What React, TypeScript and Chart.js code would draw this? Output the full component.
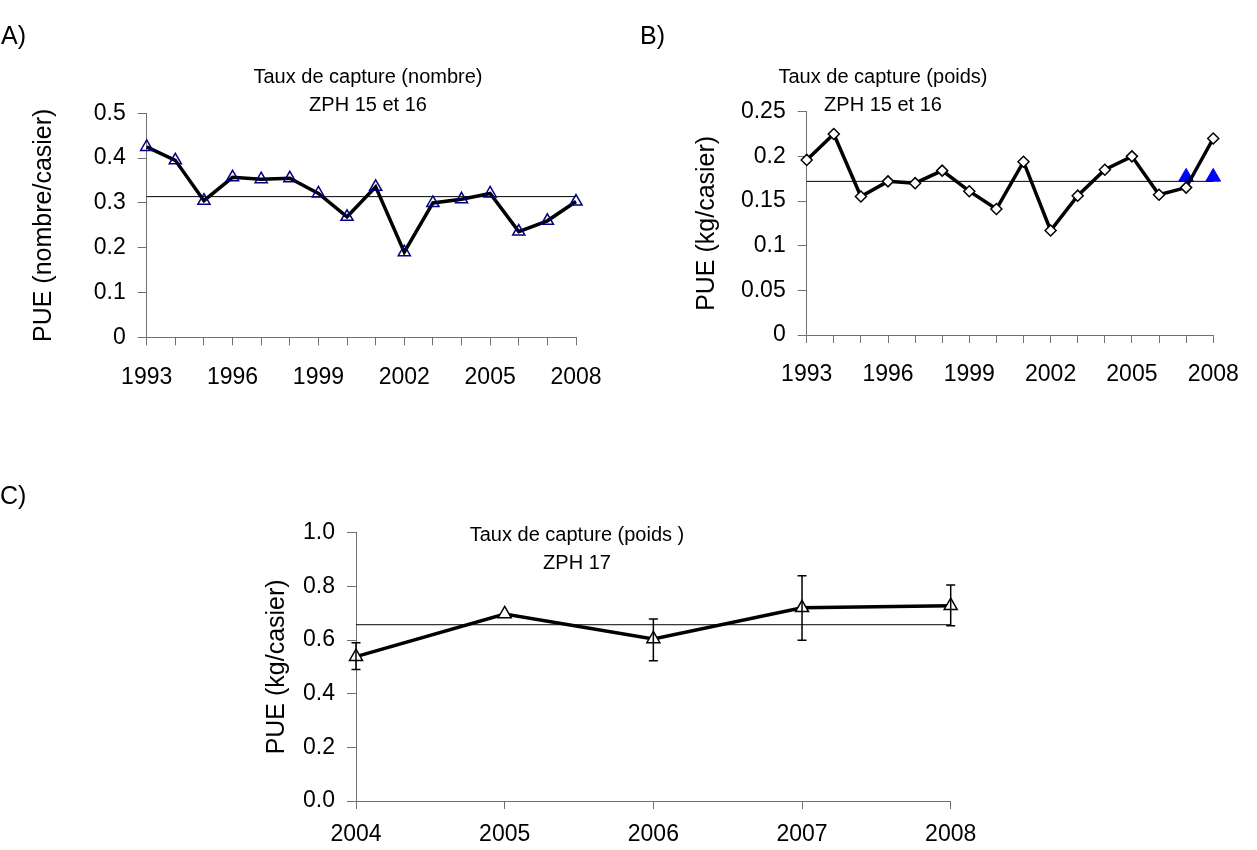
import React, { useEffect, useRef } from "react";
import { Chart, registerables } from "chart.js";

Chart.register(...registerables);

const FONT = "'Liberation Sans', Arial, Helvetica, sans-serif";
const AXIS = "#707070";

// ---------- data ----------
const yearsAB = [1993, 1994, 1995, 1996, 1997, 1998, 1999, 2000, 2001, 2002, 2003, 2004, 2005, 2006, 2007, 2008];
const xLabelYearsAB = [1993, 1996, 1999, 2002, 2005, 2008];

const pueNombre = [0.425, 0.395, 0.305, 0.357, 0.353, 0.355, 0.321, 0.269, 0.336, 0.19, 0.3, 0.308, 0.321, 0.236, 0.26, 0.303];
const meanNombre = 0.314;

const puePoids = [0.196, 0.225, 0.155, 0.172, 0.17, 0.184, 0.161, 0.141, 0.194, 0.117, 0.156, 0.185, 0.2, 0.157, 0.165, 0.22];
const meanPoids = 0.172;
const blueYears = [2007, 2008];
const blueValues = [0.177, 0.177];

const yearsC = [2004, 2005, 2006, 2007, 2008];
const pueZph17 = [0.538, 0.697, 0.604, 0.72, 0.728];
const errLowC: (number | null)[] = [0.49, null, 0.523, 0.599, 0.653];
const errHighC: (number | null)[] = [0.59, null, 0.678, 0.84, 0.805];
const meanZph17 = 0.657;

// ---------- plugins ----------
function titlePlugin(lines: string[], x: number, ys: number[], size: number) {
  return {
    id: "panelTitle",
    afterDraw(chart: any) {
      const ctx = chart.ctx;
      ctx.save();
      ctx.font = `${size}px ${FONT}`;
      ctx.fillStyle = "#000";
      ctx.textAlign = "center";
      ctx.textBaseline = "middle";
      lines.forEach((t, i) => ctx.fillText(t, x, ys[i]));
      ctx.restore();
    },
  };
}

function errorBarPlugin(xs: number[], lows: (number | null)[], highs: (number | null)[]) {
  return {
    id: "errorBars",
    afterDatasetsDraw(chart: any) {
      const ctx = chart.ctx;
      const sx = chart.scales.x;
      const sy = chart.scales.y;
      ctx.save();
      ctx.strokeStyle = "#000";
      ctx.lineWidth = 1.5;
      xs.forEach((xv, i) => {
        const lo = lows[i];
        const hi = highs[i];
        if (lo == null || hi == null) return;
        const px = sx.getPixelForValue(xv);
        const y1 = sy.getPixelForValue(lo);
        const y2 = sy.getPixelForValue(hi);
        ctx.beginPath();
        ctx.moveTo(px, y1);
        ctx.lineTo(px, y2);
        ctx.moveTo(px - 4.5, y1);
        ctx.lineTo(px + 4.5, y1);
        ctx.moveTo(px - 4.5, y2);
        ctx.lineTo(px + 4.5, y2);
        ctx.stroke();
      });
      ctx.restore();
    },
  };
}

// ---------- config builder ----------
type PanelSpec = {
  w: number;
  h: number;
  area: { left: number; right: number; top: number; bottom: number };
  xH: number;
  xMin: number;
  xMax: number;
  xLabel: (v: number) => string;
  xPad: number;
  yMin: number;
  yMax: number;
  yStep: number;
  yFmt: (v: number) => string;
  yTitle: string;
  yTitleX: number;
  datasets: any[];
  plugins: any[];
};

const TICK_SIZE = 23;
const YTITLE_SIZE = 25;
const TITLE_SIZE = 20;

function buildConfig(p: PanelSpec): any {
  const lh = YTITLE_SIZE * 1.2;
  const tlh = TICK_SIZE * 1.2;
  return {
    type: "line",
    data: { datasets: p.datasets },
    plugins: p.plugins,
    options: {
      animation: false,
      responsive: false,
      maintainAspectRatio: false,
      events: [],
      layout: {
        padding: {
          left: 0,
          right: p.w - p.area.right,
          top: p.area.top,
          bottom: p.h - p.area.bottom - p.xH,
        },
      },
      plugins: {
        legend: { display: false },
        tooltip: { enabled: false },
        title: { display: false },
      },
      scales: {
        x: {
          type: "linear",
          min: p.xMin,
          max: p.xMax,
          afterFit: (s: any) => {
            s.height = p.xH;
          },
          ticks: {
            stepSize: 1,
            autoSkip: false,
            maxRotation: 0,
            minRotation: 0,
            padding: p.xPad - tlh / 2,
            color: "#000",
            font: { family: FONT, size: TICK_SIZE },
            callback: (v: any) => p.xLabel(Number(v)),
          },
          grid: {
            display: true,
            drawOnChartArea: false,
            drawTicks: true,
            tickLength: 8,
            color: AXIS,
            lineWidth: 1,
          },
          border: { display: true, color: AXIS, width: 1 },
        },
        y: {
          type: "linear",
          min: p.yMin,
          max: p.yMax,
          afterFit: (s: any) => {
            s.width = p.area.left;
          },
          ticks: {
            stepSize: p.yStep,
            autoSkip: false,
            padding: 12,
            color: "#000",
            font: { family: FONT, size: TICK_SIZE },
            callback: (v: any) => p.yFmt(Number(v)),
          },
          grid: {
            display: true,
            drawOnChartArea: false,
            drawTicks: true,
            tickLength: 9,
            color: AXIS,
            lineWidth: 1,
          },
          border: { display: true, color: AXIS, width: 1 },
          title: {
            display: true,
            text: p.yTitle,
            color: "#000",
            font: { family: FONT, size: YTITLE_SIZE },
            padding: { top: p.yTitleX - lh / 2, bottom: 0 },
          },
        },
      },
    },
  };
}

function pts(xs: number[], ys: number[]) {
  return xs.map((x, i) => ({ x, y: ys[i] }));
}

function meanLine(x0: number, x1: number, v: number) {
  return {
    data: [
      { x: x0, y: v },
      { x: x1, y: v },
    ],
    borderColor: "#000",
    borderWidth: 1,
    pointRadius: 0,
    tension: 0,
    clip: false,
    order: 1,
  };
}

const labelAB = (v: number) => (xLabelYearsAB.includes(v) ? String(v) : "");

function specA(): PanelSpec {
  return {
    w: 628,
    h: 430,
    area: { left: 146.7, right: 576, top: 113.3, bottom: 337.3 },
    xH: 62,
    xMin: 1993,
    xMax: 2008,
    xLabel: labelAB,
    xPad: 32,
    yMin: 0,
    yMax: 0.5,
    yStep: 0.1,
    yFmt: (v) => (Math.abs(v) < 1e-9 ? "0" : v.toFixed(1)),
    yTitle: "PUE (nombre/casier)",
    yTitleX: 44,
    datasets: [
      {
        data: pts(yearsAB, pueNombre),
        borderColor: "#000",
        borderWidth: 3.5,
        tension: 0,
        clip: false,
        pointStyle: "triangle",
        pointRadius: 7,
        pointBorderColor: "#000080",
        pointBackgroundColor: "rgba(0,0,0,0)",
        pointBorderWidth: 1.5,
        order: 0,
      },
      meanLine(1993, 2008, meanNombre),
    ],
    plugins: [titlePlugin(["Taux de capture (nombre)", "ZPH 15 et 16"], 368, [77, 105], TITLE_SIZE)],
  };
}

function specB(): PanelSpec {
  const L = 628;
  return {
    w: 629,
    h: 430,
    area: { left: 806.7 - L, right: 1225.7 - L, top: 111.7, bottom: 335 },
    xH: 62,
    xMin: 1993,
    xMax: 2008,
    xLabel: labelAB,
    xPad: 32,
    yMin: 0,
    yMax: 0.25,
    yStep: 0.05,
    yFmt: (v) => String(Number(v.toFixed(2))),
    yTitle: "PUE (kg/casier)",
    yTitleX: 707 - L,
    datasets: [
      {
        data: pts(yearsAB, puePoids),
        borderColor: "#000",
        borderWidth: 3.5,
        tension: 0,
        clip: false,
        pointStyle: "rectRot",
        pointRadius: 5.5,
        pointBorderColor: "#000",
        pointBackgroundColor: "#fff",
        pointBorderWidth: 1.5,
        order: 0,
      },
      meanLine(1993, 2008, meanPoids),
      {
        data: pts(blueYears, blueValues),
        showLine: false,
        clip: false,
        pointStyle: "triangle",
        pointRadius: 8.5,
        pointBorderColor: "#0000ff",
        pointBackgroundColor: "#0000ff",
        pointBorderWidth: 1,
        order: 2,
      },
    ],
    plugins: [titlePlugin(["Taux de capture (poids)", "ZPH 15 et 16"], 883 - L, [77, 105], TITLE_SIZE)],
  };
}

function specC(): PanelSpec {
  const T = 430;
  return {
    w: 1257,
    h: 420,
    area: { left: 356, right: 950.7, top: 532.7 - T, bottom: 801 - T },
    xH: 45,
    xMin: 2004,
    xMax: 2008,
    xLabel: (v) => String(v),
    xPad: 26,
    yMin: 0,
    yMax: 1.0,
    yStep: 0.2,
    yFmt: (v) => v.toFixed(1),
    yTitle: "PUE (kg/casier)",
    yTitleX: 277,
    datasets: [
      {
        data: pts(yearsC, pueZph17),
        borderColor: "#000",
        borderWidth: 3.5,
        tension: 0,
        clip: false,
        pointStyle: "triangle",
        pointRadius: 7.5,
        pointBorderColor: "#000",
        pointBackgroundColor: "#fff",
        pointBorderWidth: 1.5,
        order: 0,
      },
      meanLine(2004, 2008, meanZph17),
    ],
    plugins: [
      titlePlugin(["Taux de capture (poids )", "ZPH 17"], 577, [535 - T, 563 - T], TITLE_SIZE),
      errorBarPlugin(yearsC, errLowC, errHighC),
    ],
  };
}

function Panel(props: { left: number; top: number; spec: () => PanelSpec }) {
  const ref = useRef<HTMLCanvasElement | null>(null);
  const s = props.spec();
  useEffect(() => {
    if (!ref.current) return;
    const chart = new Chart(ref.current, buildConfig(props.spec()));
    return () => chart.destroy();
  }, []);
  return (
    <div style={{ position: "absolute", left: props.left, top: props.top, width: s.w, height: s.h }}>
      <canvas ref={ref} width={s.w} height={s.h} style={{ width: s.w, height: s.h, display: "block" }} />
    </div>
  );
}

const labelStyle: React.CSSProperties = {
  position: "absolute",
  fontFamily: FONT,
  fontSize: 25,
  lineHeight: "25px",
  color: "#000",
};

export default function App() {
  return (
    <div style={{ position: "absolute", left: 0, top: 0, width: 1257, height: 850, background: "#fff", overflow: "hidden" }}>
      <Panel left={0} top={0} spec={specA} />
      <Panel left={628} top={0} spec={specB} />
      <Panel left={0} top={430} spec={specC} />
      <div style={{ ...labelStyle, left: 1, top: 23 }}>A)</div>
      <div style={{ ...labelStyle, left: 640, top: 23 }}>B)</div>
      <div style={{ ...labelStyle, left: 0, top: 483 }}>C)</div>
    </div>
  );
}
